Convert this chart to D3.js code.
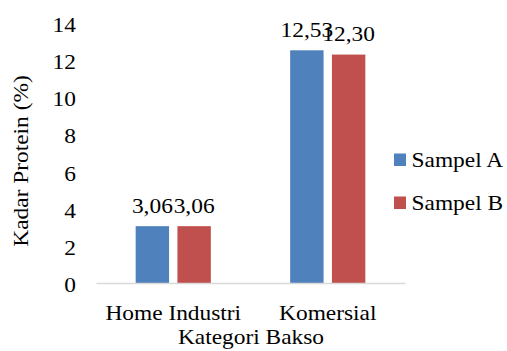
<!DOCTYPE html>
<html><head><meta charset="utf-8">
<script src="https://cdn.jsdelivr.net/npm/d3@7"></script>
<style>body{margin:0;background:#fff}svg text{font-family:"Liberation Serif","Times New Roman",serif !important;fill:#000;font-size:20px}</style>
</head><body><svg id="c" width="507" height="351"></svg>
<script>
const categories = ["Home Industri", "Komersial"];
const seriesNames = ["Sampel A", "Sampel B"];
const sampelA = [3.06, 12.53];
const sampelB = [3.06, 12.30];
const labelsA = ["3,06", "12,53"];
const labelsB = ["3,06", "12,30"];
const yTicks = [0, 2, 4, 6, 8, 10, 12, 14];
const colors = ["#4F81BD", "#C0504D"];
const SX = 1.17;

const svg = d3.select("#c");
const x = d3.scaleBand().domain(categories).range([96, 405]);
const y = d3.scaleLinear().domain([0, 14]).range([283, 23]);
const xs = d3.scaleBand().domain(seriesNames).range([0, x.bandwidth()]).paddingInner(0.2).paddingOuter(0.95);

function stext(parent, px, py, txt, anchor, rot) {
  const g = parent.append("g").attr("transform", `translate(${px},${py})` + (rot ? ` rotate(${rot})` : "") + ` scale(${SX},1)`);
  g.append("text").attr("text-anchor", anchor).text(txt);
  return g;
}

const data = [];
categories.forEach((c, i) => {
  data.push({c, s: seriesNames[0], v: sampelA[i], l: labelsA[i]});
  data.push({c, s: seriesNames[1], v: sampelB[i], l: labelsB[i]});
});

// y axis labels
const yAxis = d3.axisLeft(y).tickValues(yTicks).tickSize(0).tickPadding(0).tickFormat(d3.format("d"));
const gy = svg.append("g").attr("transform", "translate(76,0)").call(yAxis);
gy.select(".domain").remove();
gy.selectAll("text").attr("dy", "0.35em").attr("y", 1.5).attr("transform", `scale(${SX},1)`);

// bars
svg.append("g").selectAll("rect").data(data).join("rect")
  .attr("x", d => x(d.c) + xs(d.s))
  .attr("width", xs.bandwidth())
  .attr("y", d => y(d.v))
  .attr("height", d => y(0) - y(d.v))
  .attr("fill", d => colors[seriesNames.indexOf(d.s)]);

// value labels
const vl = svg.append("g");
data.forEach(d => stext(vl, x(d.c) + xs(d.s) + xs.bandwidth() / 2, y(d.v) - 13.5, d.l, "middle"));

// x axis
const xAxis = d3.axisBottom(x).tickSize(0).tickPadding(0);
const gx = svg.append("g").attr("transform", "translate(0,283)").call(xAxis);
gx.select(".domain").attr("stroke", "#D9D9D9").attr("stroke-width", 1.3);
gx.selectAll("text").attr("dy", null).attr("y", 37).attr("transform", `scale(${SX},1)`);

// axis titles
stext(svg, 251, 343.5, "Kategori Bakso", "middle");
stext(svg, 28, 161, "Kadar Protein (%)", "middle", -90);

// legend
const lg = svg.append("g").selectAll("g").data(seriesNames).join("g")
  .attr("transform", (d, i) => `translate(394,${153.5 + i * 43})`);
lg.append("rect").attr("width", 12).attr("height", 12.5).attr("fill", (d, i) => colors[i]);
lg.each(function(d) { stext(d3.select(this), 17.5, 13.3, d, "start"); });
</script></body></html>
